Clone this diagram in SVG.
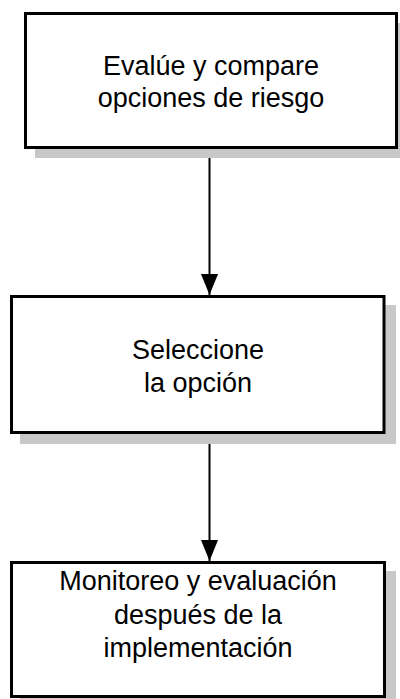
<svg xmlns="http://www.w3.org/2000/svg" width="400" height="699" viewBox="0 0 400 699">
  <style>
    .shadow { fill: #c8c8c8; stroke: none; }
    .box { fill: #ffffff; stroke: #000000; stroke-width: 3; }
    .label { font-family: "Liberation Sans", Arial, sans-serif; font-size: 27px; fill: #000000; text-anchor: middle; }
    .conn { stroke: #000000; stroke-width: 2; fill: none; }
  </style>
  <defs>
    <marker id="arrow" viewBox="0 0 21 17" refX="21" refY="8.5" markerWidth="21" markerHeight="17" markerUnits="userSpaceOnUse" orient="auto">
      <path d="M0,0 L21,8.5 L0,17 Z" fill="#000000"/>
    </marker>
  </defs>

  <g id="node-evaluate">
    <rect class="shadow" x="35" y="23" width="373" height="135"/>
    <rect class="box" x="25.5" y="13.5" width="371" height="134"/>
    <text class="label" x="211" y="75">Evalúe y compare</text>
    <text class="label" x="211" y="107">opciones de riesgo</text>
  </g>

  <g id="node-select">
    <rect class="shadow" x="20" y="305" width="376" height="139"/>
    <rect class="box" x="11.5" y="296.5" width="372.5" height="136"/>
    <text class="label" x="198" y="359">Seleccione</text>
    <text class="label" x="198" y="391.5">la opción</text>
  </g>

  <g id="node-monitor">
    <rect class="shadow" x="20" y="571" width="376" height="140"/>
    <rect class="box" x="11.5" y="562.5" width="373" height="134"/>
    <text class="label" x="198" y="590">Monitoreo y evaluación</text>
    <text class="label" x="198" y="623.5">después de la</text>
    <text class="label" x="198" y="656.5">implementación</text>
  </g>

  <g id="connectors">
    <line class="conn" x1="209.5" y1="158" x2="209.5" y2="295" marker-end="url(#arrow)"/>
    <line class="conn" x1="209.5" y1="444" x2="209.5" y2="561" marker-end="url(#arrow)"/>
  </g>
</svg>
